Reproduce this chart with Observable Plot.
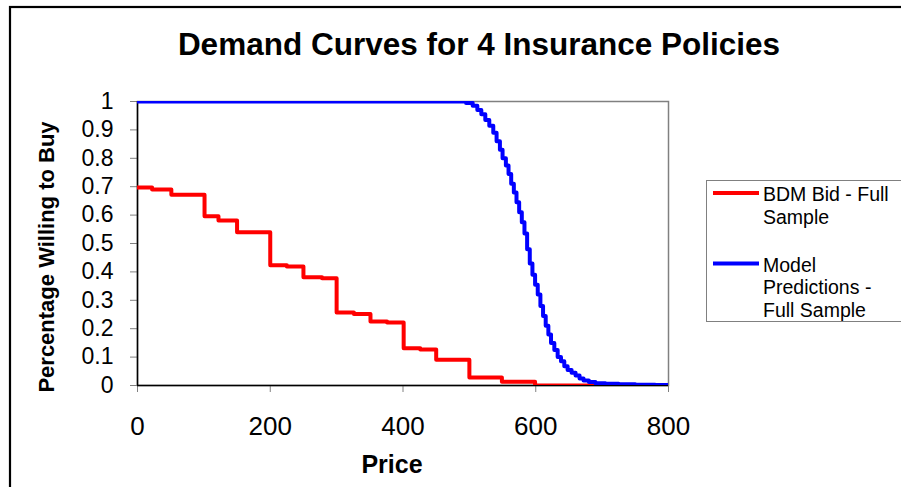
<!DOCTYPE html>
<html><head><meta charset="utf-8">
<script src="https://cdn.jsdelivr.net/npm/d3@7"></script>
<script src="https://cdn.jsdelivr.net/npm/@observablehq/plot@0.6"></script>
<style>
body{margin:0;background:#fff;}
#chart{position:relative;width:901px;height:487px;overflow:hidden;font-family:"Liberation Sans",Arial,sans-serif;}
</style></head><body><div id="chart"></div>
<script>
// BDM Bid - Full Sample (step function, value holds until next price)
const bdmPrice = [0, 22, 51, 101, 122, 150, 200, 225, 250, 278, 300, 326, 351, 376, 401, 426, 450, 500, 549, 599, 690];
const bdmShare = [0.697, 0.69, 0.672, 0.596, 0.581, 0.54, 0.423, 0.419, 0.381, 0.378, 0.257, 0.252, 0.225, 0.222, 0.131, 0.127, 0.091, 0.028, 0.013, 0.0, 0.0];
// Model Predictions - Full Sample
const modelPrice = [0, 495, 505, 512, 518, 524, 530, 536, 541, 546, 550, 555, 559, 563, 567, 571, 575, 579, 583, 587, 591, 595, 599, 603, 607, 611, 615, 619, 623, 628, 633, 638, 643, 648, 654, 660, 666, 672, 680, 690, 705, 725, 750, 780, 800];
const modelShare = [1, 0.995, 0.985, 0.97, 0.955, 0.935, 0.915, 0.89, 0.86, 0.83, 0.80, 0.775, 0.745, 0.71, 0.68, 0.645, 0.61, 0.575, 0.535, 0.48, 0.43, 0.39, 0.355, 0.32, 0.28, 0.245, 0.21, 0.18, 0.15, 0.125, 0.10, 0.085, 0.068, 0.055, 0.045, 0.035, 0.025, 0.018, 0.012, 0.008, 0.006, 0.004, 0.003, 0.002, 0.002];
const xTicks = [0, 200, 400, 600, 800];
const yTicks = [0, 0.1, 0.2, 0.3, 0.4, 0.5, 0.6, 0.7, 0.8, 0.9, 1];
const seriesNames = ["BDM Bid - Full Sample", "Model Predictions - Full Sample"];
const seriesColors = ["#ff0000", "#0000ff"];
const legendLines = [["BDM Bid - Full", "Sample"], ["Model", "Predictions -", "Full Sample"]];
const titleText = "Demand Curves for 4 Insurance Policies";
const xLabel = "Price";
const yLabel = "Percentage Willing to Buy";

const bdm = bdmPrice.map((p, i) => ({price: p, share: bdmShare[i], series: seriesNames[0]}));
const model = modelPrice.map((p, i) => ({price: p, share: modelShare[i], series: seriesNames[1]}));

const svg = Plot.plot({
  width: 901, height: 487,
  marginLeft: 137, marginRight: 233, marginTop: 101, marginBottom: 102,
  style: {fontFamily: '"Liberation Sans", Arial, sans-serif', background: "white", color: "black"},
  x: {domain: [0, 800]},
  y: {domain: [0, 1]},
  marks: [
    Plot.frame({stroke: "#808080", strokeWidth: 1.5}),
    Plot.axisX({ticks: xTicks, tickSize: 7, tickPadding: 24, fontSize: 26, label: null, stroke: "#808080", fill: "black", tickFormat: d => String(d)}),
    Plot.axisY({ticks: yTicks, tickSize: 7, tickPadding: 17, fontSize: 23, label: null, stroke: "#808080", fill: "black", tickFormat: d => String(+d.toFixed(1))}),
    Plot.ruleX([0], {stroke: "black", strokeWidth: 1.5}),
    Plot.ruleY([0], {stroke: "black", strokeWidth: 1.5}),
    Plot.line(bdm, {x: "price", y: "share", curve: "step-after", stroke: seriesColors[0], strokeWidth: 4, clip: true}),
    Plot.line(model, {x: "price", y: "share", curve: "step-after", stroke: seriesColors[1], strokeWidth: 4, clip: true})
  ]
});
document.getElementById("chart").appendChild(svg);

const s = d3.select(svg);
// outer chart border
s.append("rect").attr("x", 10).attr("y", 7).attr("width", 920).attr("height", 520)
  .attr("fill", "none").attr("stroke", "black").attr("stroke-width", 2.2);
// title
s.append("text").attr("x", 479).attr("y", 55).attr("text-anchor", "middle")
  .attr("font-size", 31.5).attr("font-weight", "bold").attr("fill", "black").text(titleText);
// x label
s.append("text").attr("x", 392).attr("y", 473).attr("text-anchor", "middle")
  .attr("font-size", 25).attr("font-weight", "bold").attr("fill", "black").text(xLabel);
// y label
s.append("text").attr("transform", "translate(54,257) rotate(-90)").attr("text-anchor", "middle")
  .attr("font-size", 22).attr("font-weight", "bold").attr("fill", "black").text(yLabel);
// legend
const lg = s.append("g");
lg.append("rect").attr("x", 706.5).attr("y", 180.5).attr("width", 200).attr("height", 141)
  .attr("fill", "white").attr("stroke", "#808080").attr("stroke-width", 1);
const legendY = [193, 263.5];
const textY = [[200.5, 224], [271.5, 294, 316.5]];
legendLines.forEach((lines, i) => {
  lg.append("line").attr("x1", 713).attr("x2", 759).attr("y1", legendY[i]).attr("y2", legendY[i])
    .attr("stroke", seriesColors[i]).attr("stroke-width", 4);
  lines.forEach((t, j) => {
    lg.append("text").attr("x", 763).attr("y", textY[i][j]).attr("font-size", 19.5)
      .attr("text-anchor", "start").attr("fill", "black").text(t);
  });
});
</script></body></html>
